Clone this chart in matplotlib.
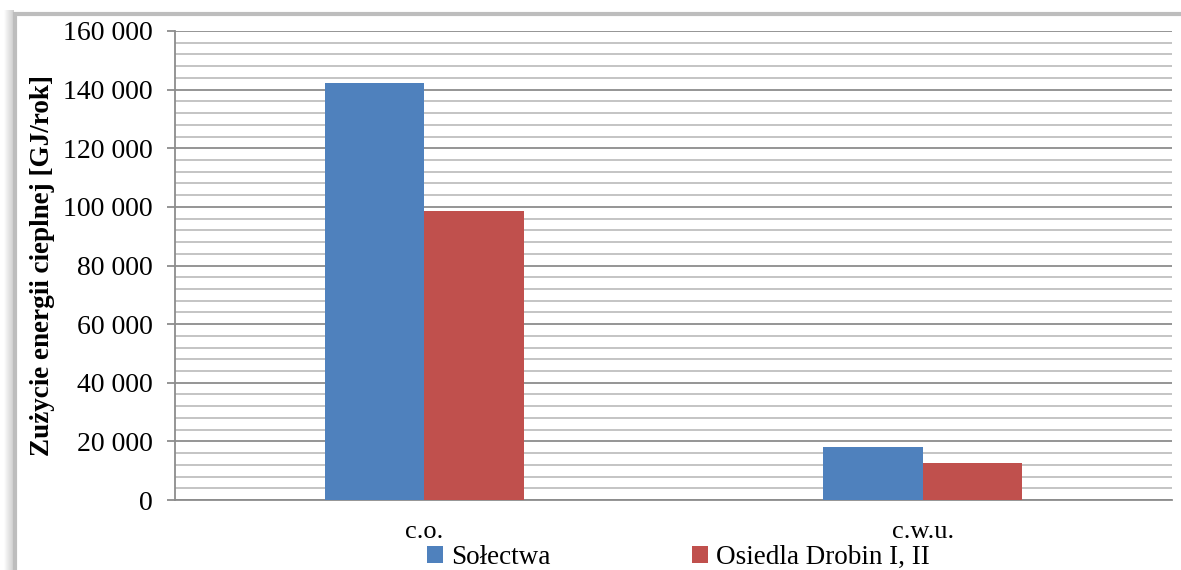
import matplotlib

matplotlib.use("Agg")
import matplotlib.pyplot as plt
import numpy as np
from matplotlib.patches import Rectangle
from matplotlib.ticker import FuncFormatter, MultipleLocator

categories = ["c.o.", "c.w.u."]
series_names = ["Sołectwa", "Osiedla Drobin I, II"]
solectwa = [142300, 18100]
osiedla = [98600, 12600]
colors = ["#4f81bd", "#c0504d"]

plt.rcParams["font.family"] = ["Liberation Serif", "DejaVu Serif"]

W, H = 1181, 570
fig = plt.figure(figsize=(W / 100, H / 100), dpi=100)

# framed chart area with a soft shadow on the left
for i, a in enumerate(np.linspace(0.02, 0.35, 10)):
    fig.patches.append(Rectangle((4 / W + i / W, -0.1), 1 / W, 1 - 10 / H + 0.1,
                                 transform=fig.transFigure, color="0.45", alpha=a,
                                 lw=0, zorder=-2))
fig.patches.append(Rectangle((15 / W, -0.2), 1.2, 1 - 14 / H + 0.2,
                             transform=fig.transFigure, facecolor="white",
                             edgecolor="#bdbdbd", lw=3, zorder=-1))

ax = fig.add_axes([175 / W, 1 - 500 / H, (1172 - 175) / W, (500 - 31) / H])
ax.set_zorder(2)
ax.patch.set_alpha(0)

x = np.arange(len(categories))
w = 0.2
ax.bar(x - w / 2, solectwa, w, color=colors[0], label=series_names[0], zorder=3)
ax.bar(x + w / 2, osiedla, w, color=colors[1], label=series_names[1], zorder=3)

ax.set_xlim(-0.5, 1.5)
ax.set_ylim(0, 160000)
ax.yaxis.set_major_locator(MultipleLocator(20000))
ax.yaxis.set_minor_locator(MultipleLocator(4000))
ax.yaxis.set_major_formatter(FuncFormatter(lambda v, p: f"{int(v):,}".replace(",", " ")))
ax.grid(axis="y", which="major", color="#8c8c8c", lw=1.3, zorder=0)
ax.grid(axis="y", which="minor", color="#bfbfbf", lw=1.3, zorder=0)

ax.set_xticks(x)
ax.set_xticklabels(categories, fontsize=19)
ax.tick_params(axis="x", length=0, pad=15)
ax.tick_params(axis="y", which="major", length=6, color="#8c8c8c", width=1.3,
               labelsize=20, pad=10)
ax.tick_params(axis="y", which="minor", length=0)

for s in ["top", "right"]:
    ax.spines[s].set_visible(False)
for s in ["left", "bottom"]:
    ax.spines[s].set_color("#8c8c8c")
    ax.spines[s].set_linewidth(1.3)

ax.set_ylabel("Zużycie energii cieplnej [GJ/rok]", fontsize=19.5, fontweight="bold",
              labelpad=6)

ax.legend(loc="lower left", bbox_to_anchor=(0.253, -70 / 469), ncol=2, frameon=False,
          fontsize=19.5, handlelength=0.6, handleheight=0.6, handletextpad=0.3,
          columnspacing=5.2, borderaxespad=0, borderpad=0)

fig.savefig("out.png", dpi=100)
